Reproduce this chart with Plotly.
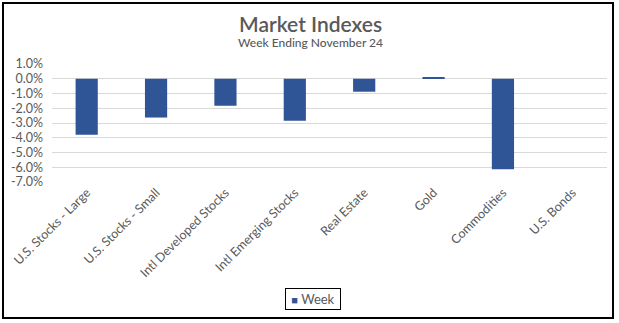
import plotly.graph_objects as go

categories = ["U.S. Stocks - Large", "U.S. Stocks - Small", "Intl Developed Stocks",
              "Intl Emerging Stocks", "Real Estate", "Gold", "Commodities", "U.S. Bonds"]
week = [-3.80, -2.63, -1.83, -2.85, -0.88, 0.09, -6.14, 0.0]
tick_vals = [1, 0, -1, -2, -3, -4, -5, -6, -7]
tick_text = ["1.0%", "0.0%", "-1.0%", "-2.0%", "-3.0%", "-4.0%", "-5.0%", "-6.0%", "-7.0%"]
series_name = "Week"
title_text = "Market Indexes"
subtitle_text = "Week Ending November 24"

FONT = "Lato, Carlito, Calibri, sans-serif"
GREY = "#595959"
BLUE = "#2F5597"

fig = go.Figure()
fig.add_trace(go.Bar(x=categories, y=week, name=series_name, marker_color=BLUE,
                     marker_line_width=0, showlegend=False))

H = 118.0  # plot height in px
W = 555.0

def py(p):  # pixel y -> paper y
    return (182 - p) / H

def px(p):
    return (p - 52) / W

fig.update_layout(
    width=619, height=323,
    margin=dict(l=52, r=12, t=64, b=141),
    paper_bgcolor="white", plot_bgcolor="white",
    bargap=0.68,
    font=dict(family=FONT, color=GREY, size=11),
    xaxis=dict(tickangle=-45, showgrid=False, showline=False, ticks="",
               tickfont=dict(family=FONT, size=12.5, color=GREY)),
    yaxis=dict(range=[-7, 1], tickvals=tick_vals, ticktext=tick_text,
               showgrid=True, gridcolor="#D9D9D9", gridwidth=1,
               zeroline=True, zerolinecolor="#D9D9D9", zerolinewidth=1,
               showline=False, ticks="", ticklabelstandoff=8,
               tickfont=dict(family=FONT, size=12.5, color=GREY)),
    shapes=[dict(type="rect", xref="paper", yref="paper",
                 x0=px(3), x1=px(613), y0=py(318), y1=py(3),
                 line=dict(color="black", width=2), fillcolor="rgba(0,0,0,0)",
                 layer="below")],
    annotations=[
        dict(text=title_text, xref="paper", yref="paper", x=px(310), y=py(23),
             xanchor="center", yanchor="middle", showarrow=False,
             font=dict(family=FONT, size=21, color=GREY, weight=600)),
        dict(text=subtitle_text, xref="paper", yref="paper", x=px(310), y=py(42),
             xanchor="center", yanchor="middle", showarrow=False,
             font=dict(family=FONT, size=12, color=GREY, weight=500)),
        dict(text="<span style='color:%s;font-size:11px'>■</span> %s" % (BLUE, series_name),
             xref="paper", yref="paper", x=px(313), y=py(299),
             xanchor="center", yanchor="middle", showarrow=False,
             bordercolor="black", borderwidth=1, borderpad=3,
             bgcolor="white", width=48, height=14,
             font=dict(family=FONT, size=13, color=GREY)),
    ],
)

fig.write_html("out.html")
